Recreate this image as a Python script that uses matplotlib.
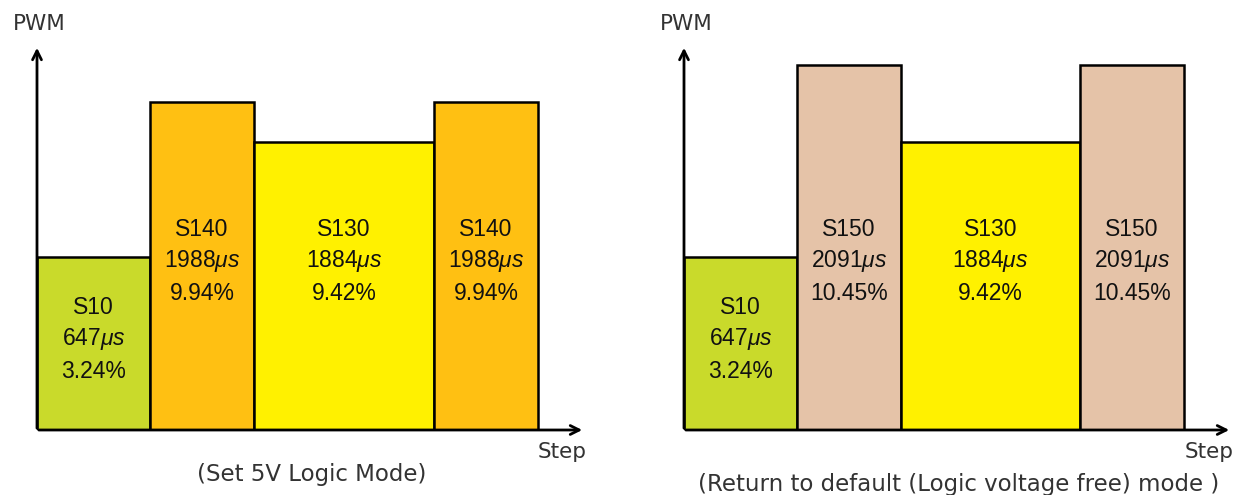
import matplotlib.pyplot as plt

# two step charts
left_names = ["S10", "S140", "S130", "S140"]
left_us = [647, 1988, 1884, 1988]
left_pct = ["3.24%", "9.94%", "9.42%", "9.94%"]
left_level = [173, 328, 288, 328]      # drawn height (schematic)
left_steps = [113, 104, 180, 104]      # drawn step length
left_colors = ["#C9DA2B", "#FFC012", "#FFF100", "#FFC012"]

right_names = ["S10", "S150", "S130", "S150"]
right_us = [647, 2091, 1884, 2091]
right_pct = ["3.24%", "10.45%", "9.42%", "10.45%"]
right_level = [173, 365, 288, 365]
right_steps = [113, 104, 179, 104]
right_colors = ["#C9DA2B", "#E5C3A8", "#FFF100", "#E5C3A8"]

W, H = 1244, 495
GRAY = "#333333"

plt.rcParams["mathtext.fontset"] = "custom"
plt.rcParams["mathtext.rm"] = "Liberation Sans"
plt.rcParams["mathtext.it"] = "Liberation Sans:italic"


def make_axes(fig, x0, y0, x1, y1):
    # place axes by pixel box so data units match pixels
    ax = fig.add_axes([x0 / W, 1 - y1 / H, (x1 - x0) / W, (y1 - y0) / H])
    ax.set_xlim(0, x1 - x0)
    ax.set_ylim(0, y1 - y0)
    ax.axis("off")
    return ax


def draw_panel(ax, names, us, pct, level, steps, colors, subtitle, sub_y):
    lefts = [sum(steps[:i]) for i in range(len(steps))]
    ax.bar(lefts, level, width=steps, align="edge", color=colors,
           edgecolor="black", linewidth=1.8, zorder=2)
    ax.annotate("", xy=(0, 385), xytext=(0, -1),
                arrowprops=dict(arrowstyle="->", lw=2, color="black", mutation_scale=16),
                annotation_clip=False, zorder=3)
    ax.annotate("", xy=(548, 0), xytext=(-1, 0),
                arrowprops=dict(arrowstyle="->", lw=2, color="black", mutation_scale=16),
                annotation_clip=False, zorder=3)
    for x, w, h, n, u, p in zip(lefts, steps, level, names, us, pct):
        cx = x + w / 2
        ty = min(h - 50, 201)
        for k, line in enumerate([n, f"{u}$\\mathit{{\\mu s}}$", p]):
            ax.text(cx, ty - k * 32, line, ha="center", va="center", fontsize=16.5,
                    family="Liberation Sans", color="#111111", zorder=4)
    ax.text(2, 406, "PWM", ha="center", va="center", fontsize=15.5,
            family="DejaVu Sans", color=GRAY, clip_on=False)
    ax.text(525, -22, "Step", ha="center", va="center", fontsize=15.5,
            family="DejaVu Sans", color=GRAY, clip_on=False)
    ax.text(275, sub_y, subtitle, ha="center", va="center", fontsize=16.5,
            family="DejaVu Sans", color=GRAY, clip_on=False)


fig = plt.figure(figsize=(W / 100, H / 100), dpi=100)
ax1 = make_axes(fig, 37, 0, 620, 430)
ax2 = make_axes(fig, 684, 0, 1244, 430)
draw_panel(ax1, left_names, left_us, left_pct, left_level, left_steps,
           left_colors, "(Set 5V Logic Mode)", -44)
draw_panel(ax2, right_names, right_us, right_pct, right_level, right_steps,
           right_colors, "(Return to default (Logic voltage free) mode )", -55)
fig.savefig("out.png", dpi=100)
